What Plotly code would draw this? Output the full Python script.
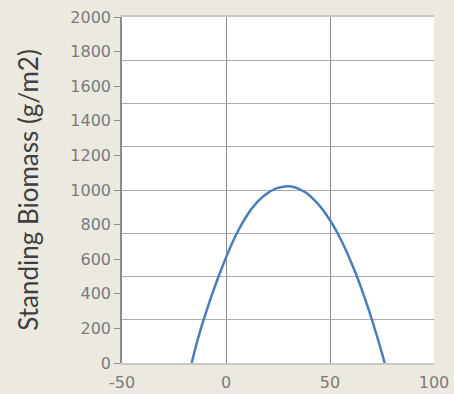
import plotly.graph_objects as go

# Curve values at regular x positions
x_vals = [-16.5, -15, -12.5, -10, -7.5, -5, -2.5, 0, 2.5, 5, 7.5, 10, 12.5, 15, 17.5, 20,
          22.5, 25, 27.5, 30, 32.5, 35, 37.5, 40, 42.5, 45, 47.5, 50, 52.5, 55, 57.5, 60,
          62.5, 65, 67.5, 70, 72.5, 75, 76.3]
y_vals = [0, 72, 181, 278, 369, 454, 534, 609, 680, 744, 801, 851, 894, 930, 959, 982,
          1000, 1012, 1019, 1021, 1017, 1007, 991, 970, 942, 909, 870, 825, 775, 718, 656, 587,
          514, 434, 348, 257, 159, 56, 0]

x_ticks = [-50, 0, 50, 100]
x_labels = ["-50", "0", "50", "100"]
y_ticks = [0, 200, 400, 600, 800, 1000, 1200, 1400, 1600, 1800, 2000]
y_grid = [250, 500, 750, 1000, 1250, 1500, 1750]

bg = "#ECEAE0"
fig = go.Figure()
fig.add_trace(go.Scatter(x=x_vals, y=y_vals, mode="lines",
                         line=dict(color="#4A7EBB", width=2.5, shape="spline", smoothing=0.6),
                         showlegend=False, hoverinfo="skip"))
# invisible trace to activate secondary y-axis grid
fig.add_trace(go.Scatter(x=[None], y=[None], yaxis="y2", showlegend=False, hoverinfo="skip"))

fig.update_layout(
    width=454, height=394,
    margin=dict(l=122, r=20, t=17, b=31, autoexpand=False),
    paper_bgcolor=bg, plot_bgcolor="white",
    font=dict(family="DejaVu Sans", size=16, color="#7A7A7A"),
    xaxis=dict(range=[-50, 100], tickvals=x_ticks, ticktext=x_labels, showgrid=True,
               gridcolor="#8C8C8C", gridwidth=1.3, automargin=False,
               zeroline=False, showline=True, linecolor="#C8C8C8", linewidth=1.5, mirror=True,
               ticks="", ticklabelstandoff=4, tickfont=dict(size=16, color="#7A7A7A")),
    yaxis=dict(range=[0, 2000], tickvals=y_ticks, showgrid=False, zeroline=False, automargin=False,
               showline=True, linecolor="#8C8C8C", linewidth=1.5,
               ticks="outside", ticklen=6, tickcolor="#8C8C8C", tickwidth=1,
               tickfont=dict(size=16, color="#7A7A7A"),
               title=dict(text="Standing Biomass (g/m2)", standoff=24,
                          font=dict(family="Lato", size=26, color="#404040"))),
    yaxis2=dict(range=[0, 2000], tickvals=y_grid, overlaying="y", showgrid=True, automargin=False,
                gridcolor="#ABABAB", gridwidth=1.3, showticklabels=False, ticks="",
                zeroline=False, showline=False),
)

fig.write_html("out.html")
